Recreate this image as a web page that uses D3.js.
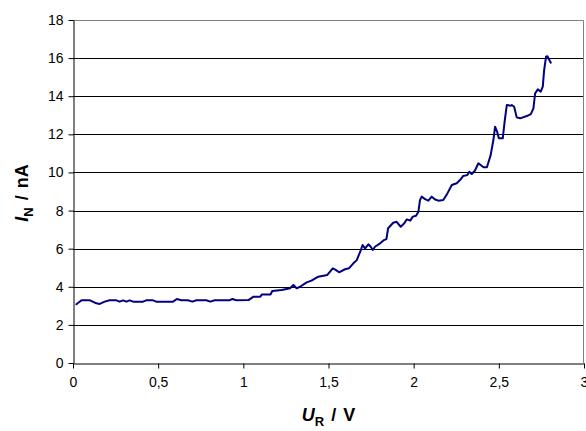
<!DOCTYPE html>
<html>
<head>
<meta charset="utf-8">
<script src="https://cdn.jsdelivr.net/npm/d3@7"></script>
<style>
  body { margin: 0; background: #fff; }
  svg { display: block; }
  text { font-family: "Liberation Sans", Arial, sans-serif; }
</style>
</head>
<body>
<svg id="chart" width="586" height="431"></svg>
<script>
const U = [0.02,0.05,0.10,0.137,0.157,0.186,0.215,0.255,0.274,0.294,0.313,0.333,0.353,0.411,0.43,0.47,0.489,0.587,0.61,0.636,0.675,0.70,0.724,0.783,0.806,0.832,0.92,0.935,0.959,1.03,1.06,1.10,1.108,1.16,1.17,1.225,1.274,1.294,1.313,1.333,1.372,1.40,1.44,1.493,1.525,1.54,1.562,1.597,1.62,1.646,1.666,1.69,1.70,1.715,1.734,1.748,1.76,1.773,1.803,1.826,1.84,1.85,1.88,1.90,1.924,1.945,1.96,1.98,1.995,2.014,2.028,2.037,2.047,2.067,2.086,2.106,2.126,2.145,2.174,2.198,2.224,2.253,2.272,2.29,2.315,2.327,2.341,2.36,2.38,2.41,2.43,2.452,2.468,2.478,2.49,2.50,2.523,2.535,2.547,2.57,2.576,2.59,2.605,2.625,2.664,2.688,2.703,2.713,2.729,2.746,2.758,2.766,2.777,2.785,2.805];
const IN = [3.08,3.29,3.29,3.13,3.1,3.22,3.29,3.29,3.22,3.29,3.22,3.29,3.22,3.22,3.29,3.29,3.22,3.22,3.36,3.29,3.29,3.22,3.29,3.29,3.22,3.29,3.29,3.36,3.29,3.3,3.48,3.48,3.6,3.6,3.78,3.83,3.92,4.09,3.92,4.0,4.23,4.32,4.53,4.62,4.97,4.9,4.76,4.92,4.97,5.23,5.4,5.93,6.19,6.02,6.23,6.1,5.93,6.1,6.28,6.45,6.5,7.07,7.36,7.41,7.15,7.33,7.54,7.47,7.68,7.73,7.94,8.55,8.73,8.6,8.52,8.73,8.58,8.52,8.55,8.9,9.34,9.43,9.6,9.81,9.86,10.04,9.92,10.1,10.48,10.27,10.27,10.91,11.7,12.4,12.14,11.79,11.79,12.75,13.54,13.5,13.54,13.45,12.89,12.84,12.96,13.06,13.36,14.15,14.36,14.24,14.5,15.37,16.07,16.1,15.76];
const xTicks = [0,0.5,1,1.5,2,2.5,3];
const xTickLabels = ["0","0,5","1","1,5","2","2,5","3"];
const yTicks = [0,2,4,6,8,10,12,14,16,18];

const svg = d3.select("#chart");
const m = {left: 73, right: 2, top: 20, bottom: 68};
const W = 586, H = 431;
const x = d3.scaleLinear().domain([0,3]).range([m.left, W - m.right]);
const y = d3.scaleLinear().domain([0,18]).range([H - m.bottom, m.top]);

// gridlines
svg.append("g").selectAll("line").data(yTicks.filter(d => d > 0 && d < 18)).join("line")
  .attr("x1", m.left).attr("x2", W - m.right)
  .attr("y1", d => Math.round(y(d)) + 0.5).attr("y2", d => Math.round(y(d)) + 0.5)
  .attr("stroke", "#000").attr("stroke-width", 1);

// plot area border (top, right)
svg.append("path")
  .attr("d", `M${m.left},${m.top + 0.5}H${Math.round(W - m.right) - 0.5}V${H - m.bottom}`)
  .attr("fill", "none").attr("stroke", "#808080").attr("stroke-width", 1);

// axes
const xAxis = d3.axisBottom(x).tickValues(xTicks).tickFormat((d,i) => xTickLabels[i]).tickSize(5).tickSizeOuter(0);
const gx = svg.append("g").attr("transform", `translate(0,${Math.round(y(0)) + 0.5})`).call(xAxis);
gx.select(".domain").attr("stroke", "#000");
gx.selectAll(".tick line").attr("stroke", "#000");
gx.selectAll(".tick text").attr("font-size", 14).attr("fill", "#000").attr("dy", "0.71em").attr("y", 14)
  .attr("font-family", "Liberation Sans, Arial, sans-serif");

const yAxis = d3.axisLeft(y).tickValues(yTicks).tickSize(5).tickSizeOuter(0);
const gy = svg.append("g").attr("transform", `translate(${m.left + 0.5},0)`).call(yAxis);
gy.select(".domain").attr("stroke", "#000");
gy.selectAll(".tick line").attr("stroke", "#000");
gy.selectAll(".tick text").attr("font-size", 14).attr("fill", "#000").attr("x", -10)
  .attr("font-family", "Liberation Sans, Arial, sans-serif");

// line
const data = U.map((u,i) => [u, IN[i]]);
svg.append("path").datum(data)
  .attr("fill", "none").attr("stroke", "#000080").attr("stroke-width", 2)
  .attr("stroke-linejoin", "round").attr("stroke-linecap", "round")
  .attr("d", d3.line().x(d => x(d[0])).y(d => y(d[1])));

// axis titles
const xt = svg.append("text").attr("x", (m.left + W - m.right) / 2).attr("y", 421)
  .attr("text-anchor", "middle").attr("font-size", 18).attr("font-weight", "bold").attr("word-spacing", 2);
xt.append("tspan").attr("font-style", "italic").text("U");
xt.append("tspan").attr("font-size", 13).attr("dy", 5).text("R");
xt.append("tspan").attr("dy", -5).text(" / V");

const yt = svg.append("text").attr("transform", "translate(28,193) rotate(-90)")
  .attr("text-anchor", "middle").attr("font-size", 18).attr("font-weight", "bold").attr("word-spacing", 2);
yt.append("tspan").attr("font-style", "italic").text("I");
yt.append("tspan").attr("font-size", 13).attr("dy", 5).text("N");
yt.append("tspan").attr("dy", -5).text(" / nA");
</script>
</body>
</html>
